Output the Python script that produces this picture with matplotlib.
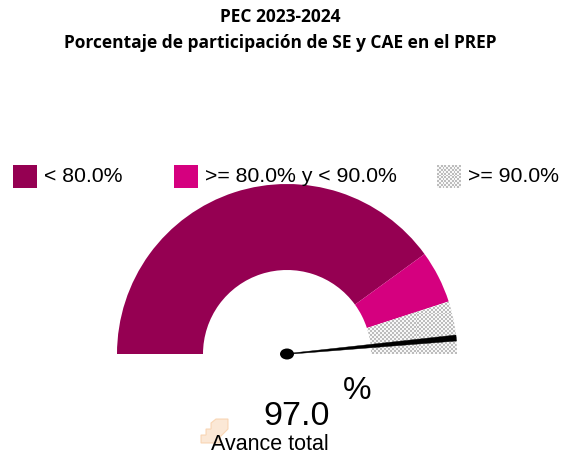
import numpy as np
import matplotlib
matplotlib.use("Agg")
import matplotlib.pyplot as plt
from matplotlib.patches import Wedge, Rectangle, Polygon, Ellipse

# Gauge bands (upper limits, %) and their colours / labels
band_limits = [80.0, 90.0, 100.0]
band_labels = ["< 80.0%", ">= 80.0% y < 90.0%", ">= 90.0%"]
band_colors = ["#950052", "#D5007F", None]  # last band uses a checker fill
value = 97.0

title_lines = ["PEC 2023-2024", "Porcentaje de participación de SE y CAE en el PREP"]

W, H = 561, 456
fig = plt.figure(figsize=(W / 100, H / 100), dpi=100)
ax = fig.add_axes([0, 0, 1, 1])
ax.set_xlim(0, W)
ax.set_ylim(0, H)
ax.set_aspect("equal")
ax.axis("off")

def py(y):
    return H - y

cx, cy = 287, py(355)
r_out, r_in = 170, 84

def ang(v):
    return 180.0 - 1.8 * v

def checker(extent, clip):
    n_x = int((extent[1] - extent[0]) / 2) + 1
    n_y = int((extent[3] - extent[2]) / 2) + 1
    yy, xx = np.mgrid[0:n_y, 0:n_x]
    img = np.where((xx + yy) % 2 == 0, 0.74, 0.97)
    im = ax.imshow(img, cmap="gray", vmin=0, vmax=1, extent=extent,
                   interpolation="nearest", zorder=2)
    im.set_clip_path(clip)
    return im

lo = 0.0
for hi, col in zip(band_limits, band_colors):
    w = Wedge((cx, cy), r_out, ang(hi), ang(lo), width=r_out - r_in,
              facecolor=col if col else "none", edgecolor="none", zorder=2)
    ax.add_patch(w)
    if col is None:
        checker((cx, cx + r_out + 2, cy - 2, cy + r_out), w)
    lo = hi

# Needle
a = np.deg2rad(ang(value))
tip = np.array([cx + r_out * np.cos(a), cy + r_out * np.sin(a)])
perp = np.array([-np.sin(a), np.cos(a)])
base = np.array([cx, cy])
needle = Polygon([base + perp * 0.4, tip + perp * 3.0, tip - perp * 3.0, base - perp * 0.4],
                 closed=True, facecolor="black", edgecolor="black", lw=0.3, zorder=5)
ax.add_patch(needle)
ax.add_patch(Ellipse((cx, cy), 14, 11, facecolor="black", edgecolor="none", zorder=6))

# Title
fig.text(0.5, 1 - 17 / H, title_lines[0], ha="center", va="center",
         fontsize=12.5, fontweight="bold", family="Open Sans")
fig.text(0.5, 1 - 43 / H, title_lines[1], ha="center", va="center",
         fontsize=12.5, fontweight="bold", family="Open Sans")

# Legend
leg_x = [13, 174, 437]
for x0, lab, col in zip(leg_x, band_labels, band_colors):
    if col:
        ax.add_patch(Rectangle((x0, py(189)), 24, 23, facecolor=col, edgecolor="none"))
    else:
        r = Rectangle((x0, py(189)), 24, 23, facecolor="none", edgecolor="none")
        ax.add_patch(r)
        checker((x0, x0 + 24, py(189), py(166)), r)
    ax.text(x0 + 31, py(177), lab, ha="left", va="center", fontsize=15.3,
            family="Liberation Sans")

# Faint logo mark behind the caption
logo = [(201, 444), (201, 436), (206, 436), (206, 430), (211, 430), (211, 424),
        (216, 420), (228, 420), (228, 430), (220, 438), (220, 444)]
ax.add_patch(Polygon([(x, py(y)) for x, y in logo], closed=True, facecolor="#FBE3CC",
                     edgecolor="#F8CFA8", lw=0.8, alpha=0.8, zorder=1))

# Value readout
ax.text(357, py(391), "%", ha="center", va="center", fontsize=23, family="Liberation Sans")
ax.text(297, py(417), f"{value:.1f}", ha="center", va="center", fontsize=24.5,
        family="Liberation Sans")
ax.text(270, py(445), "Avance total", ha="center", va="center", fontsize=15.5,
        family="Liberation Sans", zorder=3)

fig.savefig("out.png", dpi=100)
